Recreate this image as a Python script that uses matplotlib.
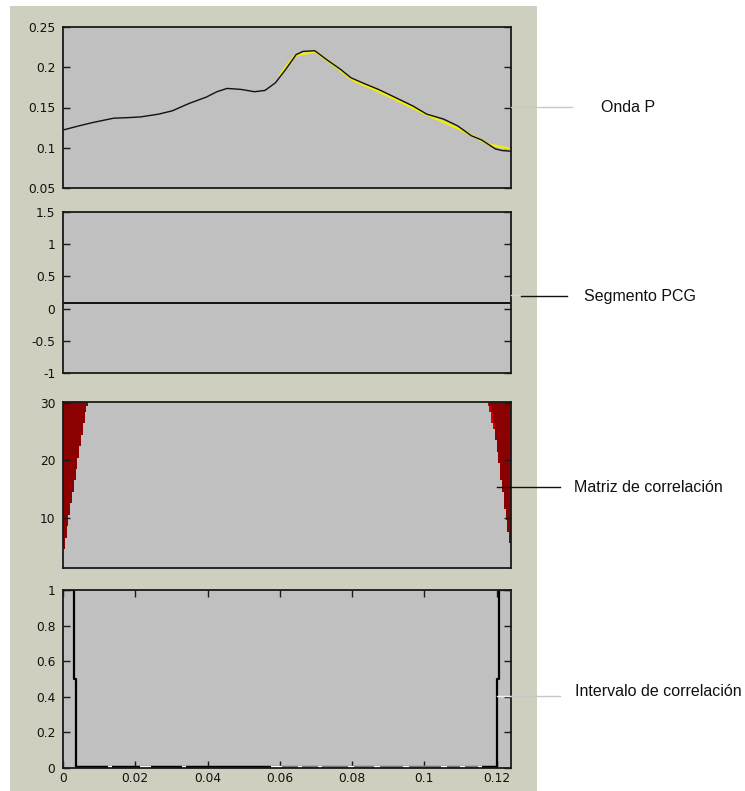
import numpy as np
import matplotlib
matplotlib.use('Agg')
import matplotlib.pyplot as plt
from matplotlib.colors import ListedColormap
from matplotlib.lines import Line2D
from matplotlib.patches import Rectangle

# ---- data ----
# panel 1: onda P (black) and a smoother copy (yellow) underneath
onda_t = [0.0, 0.0045, 0.0083, 0.014, 0.0188, 0.0216, 0.0264, 0.0302, 0.035, 0.0397,
          0.0426, 0.0454, 0.0492, 0.053, 0.0559, 0.0588, 0.0616, 0.0645, 0.0664, 0.0697,
          0.073, 0.0769, 0.0797, 0.0835, 0.0873, 0.0921, 0.0968, 0.1007, 0.1054, 0.1092,
          0.113, 0.1159, 0.1197, 0.1216, 0.124]
onda_v = [0.122, 0.1273, 0.1314, 0.1367, 0.1376, 0.1384, 0.1417, 0.1458, 0.1552, 0.163,
          0.1696, 0.1737, 0.1725, 0.1696, 0.1712, 0.1807, 0.1971, 0.2156, 0.2197, 0.2205,
          0.2094, 0.1971, 0.1869, 0.1795, 0.1725, 0.1622, 0.152, 0.1417, 0.1355, 0.1273,
          0.115, 0.1096, 0.0985, 0.0965, 0.0957]
ajuste_t = [0.060, 0.064, 0.0697, 0.075, 0.080, 0.090, 0.100, 0.110, 0.118, 0.124]
ajuste_v = [0.190, 0.214, 0.2195, 0.2025, 0.1845, 0.1645, 0.1425, 0.1225, 0.1040, 0.0985]

# panel 2: PCG segment (flat)
pcg_t = [0.0, 0.124]
pcg_v = [0.09, 0.09]

# panel 3: correlation matrix, width of the red wedges per row (in 0.5 ms columns)
filas = list(range(1, 31))
ancho_izq = [0, 0, 0, 0, 1, 1, 2, 2, 3, 3, 4, 4, 5, 5, 6, 6, 7, 7, 8, 8,
             9, 9, 10, 10, 11, 11, 12, 12, 13, 14]
ancho_der = [0, 0, 0, 0, 0, 1, 1, 2, 2, 3, 3, 4, 4, 4, 5, 5, 6, 6, 6, 7,
             7, 8, 8, 9, 9, 10, 11, 11, 12, 13]
borde_claro = [0] * 25 + [1, 1, 1, 1, 1]   # rows where the right wedge has a bright edge
n_cols = 248
col_dt = 0.0005

# panel 4: correlation interval (step signal)
intervalo_t = [0.0, 0.0030, 0.0037, 0.1200, 0.1206, 0.124]
intervalo_v = [1, 0.5, 0, 0.5, 1, 1]
cero_t = [0.0037, 0.1200]
huecos_blancos = [(0.0125, 0.0137), (0.0212, 0.0243), (0.0330, 0.0340), (0.0575, 0.1160)]
trazos_grises = [(0.0605, 0.0650), (0.0662, 0.0705), (0.0718, 0.0790), (0.0805, 0.0860),
                 (0.0878, 0.0940), (0.0958, 0.1045), (0.1062, 0.1098), (0.1112, 0.1150)]

# tick labels
yt1 = [0.05, 0.1, 0.15, 0.2, 0.25]
yl1 = ['0.05', '0.1', '0.15', '0.2', '0.25']
yt2 = [-1, -0.5, 0, 0.5, 1, 1.5]
yl2 = ['-1', '-0.5', '0', '0.5', '1', '1.5']
yt3 = [10, 20, 30]
yl3 = ['10', '20', '30']
yt4 = [0, 0.2, 0.4, 0.6, 0.8, 1]
yl4 = ['0', '0.2', '0.4', '0.6', '0.8', '1']
xt4 = [0, 0.02, 0.04, 0.06, 0.08, 0.1, 0.12]
xl4 = ['0', '0.02', '0.04', '0.06', '0.08', '0.1', '0.12']

etiquetas = ['Onda P', 'Segmento PCG', 'Matriz de correlación', 'Intervalo de correlación']

# ---- figure ----
W, H = 745, 791
fig = plt.figure(figsize=(W / 100, H / 100), dpi=100)
fig.patch.set_facecolor('white')
fig.patches.append(Rectangle((10 / W, 0), 527 / W, 1 - 6 / H, transform=fig.transFigure,
                             facecolor='#cfcfbf', edgecolor='none', zorder=-5))

plt.rcParams['font.family'] = 'DejaVu Sans'
fondo = '#c0c0c0'
oscuro = '#1a1a1a'


def px_axes(top, bottom):
    return [63 / W, 1 - bottom / H, 448 / W, (bottom - top) / H]


def estilo(ax, xticks=False):
    ax.set_facecolor(fondo)
    for s in ax.spines.values():
        s.set_color(oscuro)
        s.set_linewidth(1.3)
    ax.tick_params(axis='y', direction='in', left=True, right=True, length=5, width=1,
                   color=oscuro, labelsize=8.8, pad=5.5, labelcolor='#111111')
    if xticks:
        ax.tick_params(axis='x', direction='in', top=True, bottom=True, length=5, width=1,
                       color=oscuro, labelsize=8.8, pad=3, labelcolor='#111111')
    else:
        ax.set_xticks([])
    ax.set_xlim(0, 0.124)


ax1 = fig.add_axes(px_axes(27, 188))
ax1.plot(ajuste_t, ajuste_v, color='#f0f000', lw=1.6)
ax1.plot(onda_t, onda_v, color='#111111', lw=1.0)
ax1.set_ylim(0.05, 0.25)
ax1.set_yticks(yt1)
ax1.set_yticklabels(yl1)
estilo(ax1)

ax2 = fig.add_axes(px_axes(212, 373))
ax2.plot(pcg_t, pcg_v, color='#111111', lw=1.4)
ax2.set_ylim(-1, 1.5)
ax2.set_yticks(yt2)
ax2.set_yticklabels(yl2)
estilo(ax2)

ax3 = fig.add_axes(px_axes(402, 568))
mat = np.zeros((len(filas), n_cols))
for i in range(len(filas)):
    mat[i, :ancho_izq[i]] = 1
    if ancho_der[i] > 0:
        mat[i, n_cols - ancho_der[i]:] = 1
        if borde_claro[i]:
            mat[i, n_cols - ancho_der[i]] = 2
x_bordes = np.arange(n_cols + 1) * col_dt
y_bordes = np.array(filas + [filas[-1] + 1]) - 0.5
ax3.pcolormesh(x_bordes, y_bordes, mat, cmap=ListedColormap([fondo, '#8b0000', '#d40000']),
               vmin=0, vmax=2, shading='flat')
ax3.set_ylim(1.2, 30.2)
ax3.set_yticks(yt3)
ax3.set_yticklabels(yl3)
estilo(ax3)

ax4 = fig.add_axes(px_axes(590, 768))
ax4.plot(intervalo_t, intervalo_v, drawstyle='steps-post', color='#000000', lw=1.6)
ax4.plot(cero_t, [0, 0], color='#000000', lw=3.2, solid_capstyle='butt')
for a, b in huecos_blancos:
    ax4.plot([a, b], [0, 0], color='white', lw=3.2, solid_capstyle='butt')
for a, b in trazos_grises:
    ax4.plot([a, b], [0, 0], color='#555555', lw=2.6, solid_capstyle='butt')
ax4.set_ylim(0, 1)
ax4.set_yticks(yt4)
ax4.set_yticklabels(yl4)
ax4.set_xticks(xt4)
ax4.set_xticklabels(xl4)
estilo(ax4, xticks=True)
ax4.set_xlim(0, 0.124)

# ---- callouts on the right ----
def linea(x0, x1, y, color, lw=1.0):
    fig.add_artist(Line2D([x0 / W, x1 / W], [1 - y / H, 1 - y / H], color=color, lw=lw))


linea(511, 572, 107, '#c8c8c8')
linea(511, 521, 295, '#d8d8d8')
linea(521, 567, 296, '#111111')
linea(497, 560, 487, '#111111')
linea(497, 511, 696, '#f0f0f0')
linea(511, 560, 696, '#c8c8c8')

posiciones = [(601, 107), (584, 297), (574, 487), (575, 692)]
for txt, (x, y) in zip(etiquetas, posiciones):
    fig.text(x / W, 1 - y / H, txt, ha='left', va='center', fontsize=11.5,
             family='Liberation Sans', color='#111111')

fig.savefig('out.png', dpi=100, facecolor=fig.get_facecolor())
